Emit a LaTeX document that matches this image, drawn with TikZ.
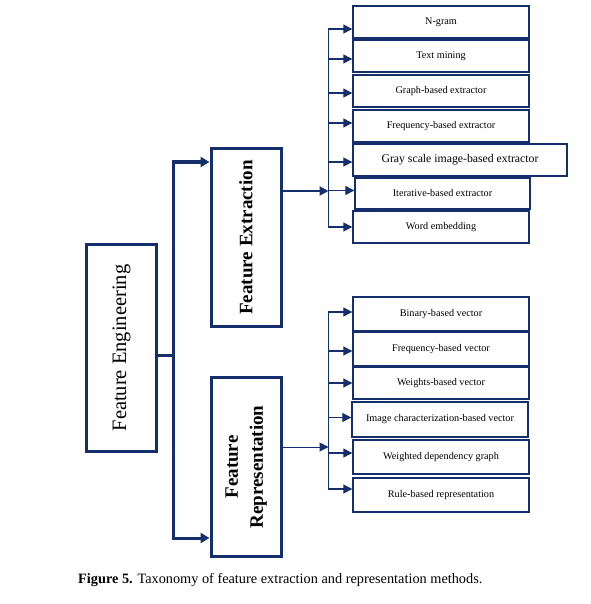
\documentclass[tikz,border=0pt]{standalone}
\usepackage{fontspec}
\setmainfont{Liberation Serif}
\usetikzlibrary{arrows.meta,positioning,calc}
\definecolor{taxnavy}{HTML}{142F6B}
\tikzset{
  mainbox/.style={draw=taxnavy,line width=3pt,fill=white,minimum width=70pt,inner sep=0pt,align=center},
  methodbox/.style={draw=taxnavy,line width=1.4pt,fill=white,minimum width=176pt,minimum height=32pt,inner sep=2pt,font=\fontsize{10.2}{12}\selectfont},
  thickflow/.style={-{Triangle[length=9pt,width=10pt]},line width=3pt,draw=taxnavy},
  midflow/.style={-{Triangle[length=9pt,width=9pt]},line width=2pt,draw=taxnavy},
  busflow/.style={-{Triangle[length=9pt,width=9pt]},line width=1.2pt,draw=taxnavy},
}
\begin{document}
\begin{tikzpicture}[x=1pt,y=-1pt]
  \useasboundingbox (0,0) rectangle (590,604);
  % main column
  \node[mainbox,minimum height=207pt] (fe) at (121.5,348) {\rotatebox{90}{\fontsize{20.5}{24}\selectfont Feature Engineering}};
  \node[mainbox,minimum height=178pt] (ext) at (246,237.5) {\rotatebox{90}{\fontsize{19}{22}\selectfont\bfseries Feature Extraction}};
  \node[mainbox,minimum height=179pt] (rep) at (246,467) {\rotatebox{90}{\fontsize{19}{22}\selectfont\bfseries\begin{tabular}{@{}c@{}}Feature\\[3pt]Representation\end{tabular}}};
  % extraction methods
  \node[methodbox] (ngram) at (441,22) {N-gram};
  \node[methodbox] (tmin) at (441,56) {Text mining};
  \node[methodbox] (graph) at (441,91) {Graph-based extractor};
  \node[methodbox] (freqx) at (441,126) {Frequency-based extractor};
  \node[methodbox,minimum width=214pt,font=\fontsize{11.75}{14}\selectfont] (gray) at (460,160) {Gray scale image-based extractor};
  \node[methodbox,minimum width=175pt,minimum height=31pt] (iter) at (442.5,193.5) {Iterative-based extractor};
  \node[methodbox] (wemb) at (441,227) {Word embedding};
  % representation methods
  \node[methodbox,minimum height=34pt] (binv) at (441,314) {Binary-based vector};
  \node[methodbox,minimum height=34pt] (freqv) at (441,349) {Frequency-based vector};
  \node[methodbox] (wghv) at (441,383) {Weights-based vector};
  \node[methodbox,minimum height=35pt] (imgv) at (440,419.5) {Image characterization-based vector};
  \node[methodbox,minimum height=34pt] (wdep) at (441,457) {Weighted dependency graph};
  \node[methodbox,minimum height=34pt] (rule) at (441,495) {Rule-based representation};
  % connectors
  \coordinate (split) at ($(fe.east)+(15,7)$);
  \coordinate (extin) at ($(ext.north west)+(0,15)$);
  \coordinate (repin) at ($(rep.south west)+(0,-20)$);
  \draw[line width=3pt,taxnavy] ($(fe.east)+(0,7)$) -- (split);
  \draw[thickflow] (split) |- (extin);
  \draw[thickflow] (split) |- (repin);
  \coordinate (xbus) at ($(ext.north east)+(46,44)$);
  \coordinate (rbus) at ($(rep.north east)+(46,71)$);
  \draw[midflow] (ext.east |- xbus) -- (xbus);
  \draw[busflow,line width=1pt] (rep.east |- rbus) -- (rbus);
  \draw[busflow] (xbus) |- ($(ngram.west)+(0,7)$);
  \draw[busflow] (xbus) |- ($(tmin.west)+(0,3)$);
  \draw[busflow] (xbus) |- ($(graph.west)+(0,2)$);
  \draw[busflow] (xbus) |- ($(freqx.west)+(0,-3)$);
  \draw[busflow] (xbus) |- ($(gray.west)+(0,2)$);
  \draw[busflow] (xbus) |- ($(iter.west)+(0,-3)$);
  \draw[busflow] (xbus) |- (wemb.west);
  \draw[busflow] (rbus) |- ($(binv.west)+(0,-2)$);
  \draw[busflow] (rbus) |- ($(freqv.west)+(0,2)$);
  \draw[busflow] (rbus) |- (wghv.west);
  \draw[busflow] (rbus) |- ($(imgv.west)+(0,-2)$);
  \draw[busflow] (rbus) |- ($(wdep.west)+(0,-4)$);
  \draw[busflow] (rbus) |- ($(rule.west)+(0,-6)$);
  % caption
  \node[anchor=west,inner sep=0pt,font=\fontsize{14.3}{16}\selectfont] (cap) at (78,580) {\textbf{Figure 5.} Taxonomy of feature extraction and representation methods.};
\end{tikzpicture}
\end{document}
